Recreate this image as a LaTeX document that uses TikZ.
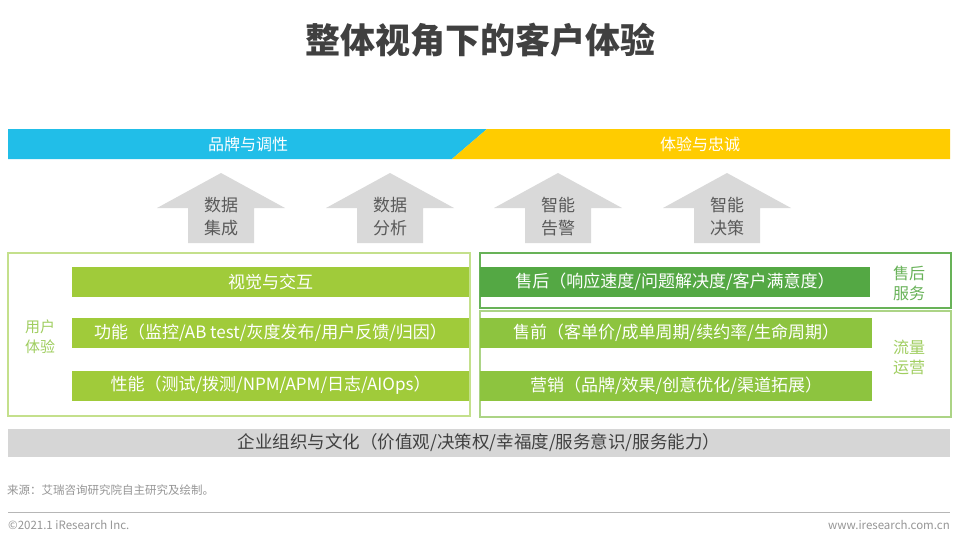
\documentclass[tikz,border=0pt]{standalone}
\usepackage{fontspec}
\setmainfont{Noto Sans CJK SC}
\usepackage{tikz}
\usetikzlibrary{positioning,calc}
\definecolor{TitleGray}{RGB}{64,64,64}
\definecolor{BannerBlue}{RGB}{33,190,232}
\definecolor{BannerYellow}{RGB}{255,204,0}
\definecolor{ArrowGray}{RGB}{217,217,217}
\definecolor{ArrowText}{RGB}{89,89,89}
\definecolor{BarLime}{RGB}{160,203,58}
\definecolor{BarGreen}{RGB}{84,168,68}
\definecolor{BarMid}{RGB}{141,196,63}
\definecolor{BoxLime}{RGB}{196,224,140}
\definecolor{BoxGreen}{RGB}{104,178,88}
\definecolor{BoxMid}{RGB}{172,212,134}
\definecolor{LabelLime}{RGB}{160,206,96}
\definecolor{BaseGray}{RGB}{214,214,214}
\definecolor{FootGray}{RGB}{150,150,150}

\begin{document}
\begin{tikzpicture}[x=1pt,y=-1pt,
    bannertext/.style={text=white,inner sep=0pt,font=\fontsize{16}{18}\selectfont},
    arrowtext/.style={text=ArrowText,inner sep=0pt,align=center,font=\fontsize{17}{23}\selectfont},
    barbox/.style={text=white,inner sep=0pt,minimum height=30pt,font=\fontsize{17}{20}\selectfont},
    sidetext/.style={inner sep=0pt,align=center,font=\fontsize{15}{20}\selectfont},
    foottext/.style={text=FootGray,inner sep=0pt,font=\fontsize{11.5}{13}\selectfont}]
  \useasboundingbox (0,0) rectangle (960,542);
  \fill[white] (0,0) rectangle (960,542);
  \node[text=TitleGray,font=\bfseries\fontsize{35}{40}\selectfont] (title) at (480,40) {整体视角下的客户体验};

  \fill[BannerBlue] (8,129) -- (487,129) -- (452,159) -- (8,159) -- cycle;
  \fill[BannerYellow] (487,129) -- (950,129) -- (950,159) -- (452,159) -- cycle;
  \node[bannertext] (brand) at (248,144) {品牌与调性};
  \node[bannertext] (loyal) at (700,144) {体验与忠诚};

  \foreach \cx/\txt/\nm in {221/{数据\\集成}/integ,390/{数据\\分析}/analy,558/{智能\\告警}/alert,727/{智能\\决策}/decis}{
    \fill[ArrowGray] (\cx,173) -- (\cx+64,208) -- (\cx+33,208) -- (\cx+33,243)
      -- (\cx-33,243) -- (\cx-33,208) -- (\cx-64,208) -- cycle;
    \node[arrowtext] (\nm) at (\cx,217) {\txt};
  }

  \draw[BoxLime,line width=1.6pt] (8,253) rectangle (470,416);
  \node[barbox,fill=BarLime,minimum width=397pt] (visual) at (270.5,281.5) {视觉与交互};
  \node[barbox,fill=BarLime,minimum width=397pt] (func) at (270.5,333) {功能（监控/AB test/灰度发布/用户反馈/归因）};
  \node[barbox,fill=BarLime,minimum width=397pt] (perf) at (270.5,385.5) {性能（测试/拨测/NPM/APM/日志/AIOps）};
  \node[sidetext,text=LabelLime] (user) at (40,337) {用户\\体验};

  \draw[BoxGreen,line width=1.6pt] (480,253) rectangle (951,308);
  \node[barbox,fill=BarGreen,minimum width=390pt] (after) at (675,282) {售后（响应速度/问题解决度/客户满意度）};
  \node[sidetext,text=BoxGreen,font=\fontsize{16}{20}\selectfont] (service) at (909,283) {售后\\服务};

  \draw[BoxMid,line width=1.6pt] (480,311) rectangle (951,417);
  \node[barbox,fill=BarMid,minimum width=392pt] (before) at (676,333) {售前（客单价/成单周期/续约率/生命周期）};
  \node[barbox,fill=BarMid,minimum width=392pt] (market) at (676,385.5) {营销（品牌/效果/创意优化/渠道拓展）};
  \node[sidetext,text=LabelLime,font=\fontsize{16}{20}\selectfont] (traffic) at (909,357) {流量\\运营};

  \node[fill=BaseGray,text=TitleGray,inner sep=0pt,minimum width=942pt,minimum height=28pt,
    font=\fontsize{17.5}{20}\selectfont] (culture) at (479,443) {企业组织与文化（价值观/决策权/幸福度/服务意识/服务能力）};

  \node[foottext,anchor=west] (source) at (7,490) {来源：艾瑞咨询研究院自主研究及绘制。};
  \draw[FootGray!70,line width=1pt] (8,512) -- (950,512);
  \node[foottext,anchor=west] (copy) at (8,525) {©2021.1 iResearch Inc.};
  \node[foottext,anchor=east] (web) at (950,525) {www.iresearch.com.cn};
\end{tikzpicture}
\end{document}
